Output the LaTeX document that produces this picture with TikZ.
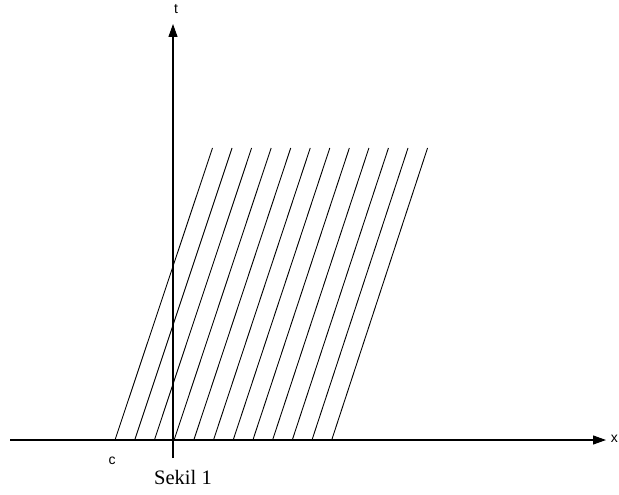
\documentclass[tikz,border=0pt]{standalone}
\usepackage{fontspec}
\setmainfont{Liberation Serif}
\newfontfamily\lsans{Liberation Sans}
\usetikzlibrary{arrows.meta}
\begin{document}
\begin{tikzpicture}[x=1pt,y=-1pt,
  axis/.style={line width=1.1pt,-{Triangle[length=13pt,width=9pt]}},
  hatch/.style={line width=0.9pt},
  lbl/.style={font=\lsans\fontsize{14}{16}\selectfont,inner sep=0pt}]
\useasboundingbox (0,0) rectangle (619,495);
\coordinate (xs) at (10,440);
\coordinate (xe) at (606,440);
\coordinate (ys) at (173,458);
\coordinate (ye) at (173,24);
\draw[axis] (xs) -- (xe);
\draw[axis] (ys) -- (ye);
\foreach \i in {0,...,11}{
  \coordinate (b\i) at ({115+19.7*\i},440);
  \coordinate (t\i) at ({212.5+19.55*\i},148);
  \draw[hatch] (b\i) -- (t\i);
}
\node[lbl] (tl) at (176,9) {t};
\node[lbl,anchor=east] (xl) at (618,439) {x};
\node[lbl] (cl) at (112,461) {c};
\node[font=\fontsize{20.5}{22}\selectfont,inner sep=0pt] (cap) at (183,477) {Sekil 1};
\end{tikzpicture}
\end{document}
